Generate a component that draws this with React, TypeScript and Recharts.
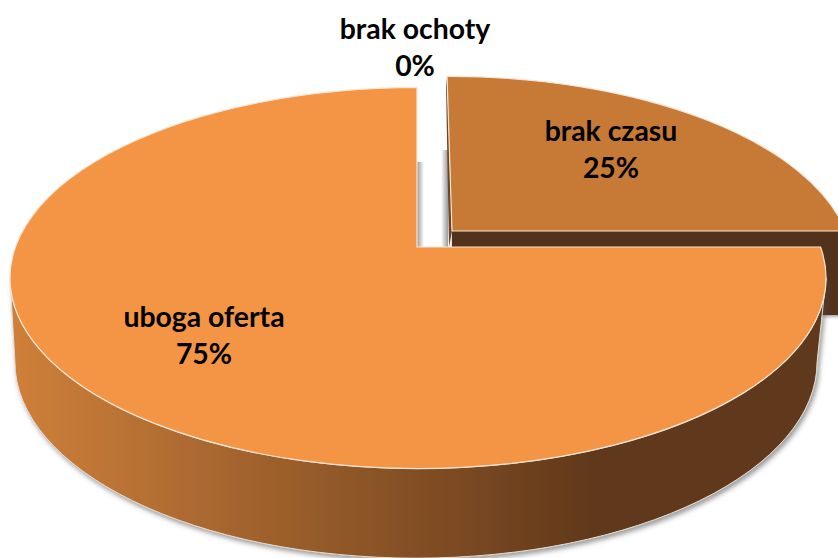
import React from "react";
import { PieChart, Pie } from "recharts";

const categories = ["brak ochoty", "brak czasu", "uboga oferta"];
const shares = [0, 25, 75];
const chartRows = categories.map((name, i) => ({ name, value: shares[i] }));

const FACE = ["#c77a36", "#c77a36", "#f39545"];
const FONT = "Lato, Carlito, sans-serif";
const TILT = 0.467;
const DEPTH = 84;

// placement of each slice relative to the pie centre
const SLICE = [
  { ox: 33, oy: -11, rScale: 0.985, ax: 1, ay: -36, lean: 0.015 },
  { ox: 33, oy: -11, rScale: 0.985, ax: 1, ay: -36, lean: 0.015 },
  { ox: 0, oy: 0, rScale: 1, ax: -1, ay: -31, lean: 0 },
];
// label anchor offset from the pie centre
const LABEL_OFFSET = [
  { dx: -3, dy: -239 },
  { dx: 193, dy: -137 },
  { dx: -214, dy: 49 },
];

const RAD = Math.PI / 180;

function rim(angle: number, rx: number, ry: number, ax: number, ay: number, lean: number) {
  const c = Math.cos(angle * RAD);
  const s = Math.sin(angle * RAD);
  const dx = c - lean * s;
  const dy = -TILT * s;
  const A = (dx * dx) / (rx * rx) + (dy * dy) / (ry * ry);
  const B = (ax * dx) / (rx * rx) + (ay * dy) / (ry * ry);
  const C = (ax * ax) / (rx * rx) + (ay * ay) / (ry * ry) - 1;
  const t = (-B + Math.sqrt(B * B - A * C)) / A;
  return { x: ax + t * dx, y: ay + t * dy };
}

function SliceShape(props: any) {
  const { cx, cy, outerRadius, startAngle, endAngle, index } = props;
  if (Math.abs(startAngle - endAngle) < 0.01) return <g />;
  const g = SLICE[index];
  const rx = outerRadius * g.rScale;
  const ry = outerRadius * TILT;
  const ox = cx + g.ox;
  const oy = cy + g.oy;
  const a = rim(startAngle, rx, ry, g.ax, g.ay, g.lean);
  const b = rim(endAngle, rx, ry, g.ax, g.ay, g.lean);
  const apex = { x: ox + g.ax, y: oy + g.ay };
  const p1 = { x: ox + a.x, y: oy + a.y };
  const p2 = { x: ox + b.x, y: oy + b.y };
  const large = Math.abs(startAngle - endAngle) > 180 ? 1 : 0;
  const top = `M${apex.x},${apex.y} L${p1.x},${p1.y} A${rx},${ry} 0 ${large} 1 ${p2.x},${p2.y} Z`;
  const isMain = Math.abs(startAngle - endAngle) > 180;

  if (isMain) {
    const brx = rx * 0.983;
    const bry = ry * 1.03;
    const bcx = ox - 2;
    const bcy = oy + DEPTH;
    const wall = `M${ox - rx},${oy} A${rx},${ry} 0 0 0 ${ox + rx},${oy} L${bcx + brx},${bcy} A${brx},${bry} 0 0 1 ${bcx - brx},${bcy} Z`;
    return (
      <g>
        <defs>
          <linearGradient id="wallGrad" gradientUnits="userSpaceOnUse" x1={ox - rx} y1={0} x2={ox + 182} y2={0}>
            <stop offset="0" stopColor="#cf803a" />
            <stop offset="1" stopColor="#60381b" />
          </linearGradient>
          <linearGradient id="gapGradA" x1="0" y1="0" x2="1" y2="0">
            <stop offset="0" stopColor="#9a9a9a" />
            <stop offset="1" stopColor="#ffffff" />
          </linearGradient>
          <filter id="wallShadow" x="-5%" y="-5%" width="110%" height="115%">
            <feDropShadow dx="2" dy="3" stdDeviation="2.5" floodColor="#555" floodOpacity="0.6" />
          </filter>
        </defs>
        <rect x={apex.x} y={apex.y - 85} width={7} height={85} fill="url(#gapGradA)" />
        <path d={wall} fill="url(#wallGrad)" stroke="#e6dccf" strokeWidth={1} filter="url(#wallShadow)" />
        <path d={top} fill={FACE[index]} stroke="#f7e6d6" strokeWidth={1.2} />
      </g>
    );
  }

  const cut = `M${apex.x},${apex.y} L${p2.x},${p2.y} L${p2.x},${p2.y + DEPTH} L${apex.x},${apex.y + DEPTH} Z`;
  const sliver = `M${p1.x},${p1.y} L${apex.x},${apex.y} L${apex.x - 3},${apex.y + 16} L${p1.x - 1},${p1.y + 10} Z`;
  return (
    <g>
      <defs>
        <linearGradient id="gapGradB" x1="0" y1="0" x2="1" y2="0">
          <stop offset="0" stopColor="#ffffff" />
          <stop offset="1" stopColor="#9a9a9a" />
        </linearGradient>
        <filter id="cutShadow" x="-5%" y="-5%" width="110%" height="120%">
          <feDropShadow dx="0" dy="2" stdDeviation="1.5" floodColor="#555" floodOpacity="0.5" />
        </filter>
      </defs>
      <rect x={apex.x - 11} y={apex.y - 81} width={7} height={97} fill="url(#gapGradB)" />
      <path d={sliver} fill="#6b4526" />
      <path d={cut} fill="#52301a" filter="url(#cutShadow)" />
      <path d={top} fill={FACE[index]} stroke="#f7e6d6" strokeWidth={1.2} />
    </g>
  );
}

function SliceLabel(props: any) {
  const { cx, cy, index, name, value } = props;
  const o = LABEL_OFFSET[index];
  const x = cx + o.dx;
  const y = cy + o.dy;
  return (
    <text
      textAnchor="middle"
      fontFamily={FONT}
      fontWeight={700}
      fontSize={28.4}
      fill="#000"
    >
      <tspan x={x} y={y}>{name}</tspan>
      <tspan x={x} y={y + 37}>{`${value}%`}</tspan>
    </text>
  );
}

export default function App() {
  return (
    <div style={{ position: "absolute", left: 0, top: 0, width: 838, height: 558, background: "#fff", overflow: "hidden" }}>
      <PieChart width={838} height={558} margin={{ top: 0, right: 0, bottom: 0, left: 0 }}>
        <Pie
          data={chartRows}
          dataKey="value"
          nameKey="name"
          cx={418}
          cy={278}
          innerRadius={0}
          outerRadius={408}
          startAngle={90}
          endAngle={-270}
          stroke="none"
          isAnimationActive={false}
          shape={SliceShape}
          label={SliceLabel}
          labelLine={false}
        />
      </PieChart>
    </div>
  );
}
